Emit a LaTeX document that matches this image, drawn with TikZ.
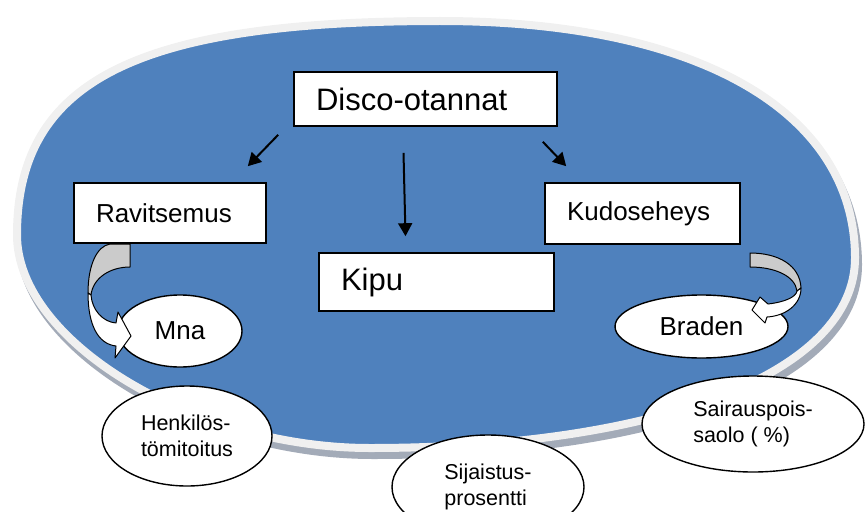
\documentclass[tikz,border=0pt]{standalone}
\usepackage{fontspec}
\setmainfont{Liberation Sans}
\definecolor{discoBlue}{HTML}{4F81BD}
\definecolor{discoRim}{HTML}{F0F0F0}
\definecolor{discoShade}{HTML}{A3ABB8}
\definecolor{discoFold}{HTML}{CBCBCB}
\usetikzlibrary{shapes.geometric, arrows.meta, positioning, calc}

\begin{document}
\begin{tikzpicture}[x=1pt, y=-1pt,
  box/.style={draw, fill=white, line width=1.6pt, inner xsep=22pt, align=left},
  bigtext/.style={font=\fontsize{31}{35}\selectfont},
  midtext/.style={font=\fontsize{26}{30}\selectfont},
  oval/.style={ellipse, draw, fill=white, line width=1.4pt, inner sep=0pt,
    align=left, font=\fontsize{21.5}{26.5}\selectfont},
  arr/.style={-{Triangle[length=13pt, width=14pt]}, line width=2pt},
  fold/.style={draw, line width=1pt, fill=discoFold, line join=round},
  flap/.style={draw, line width=1pt, fill=white, line join=round}]

  \useasboundingbox (0,0) rectangle (866,511);
  \clip (0,0) rectangle (866,511);

  % Background
  \path[fill=discoShade, draw=discoShade, line width=8pt, shift={(3,7)}]
    (440,21) .. controls (697,21) and (855,111) .. (855,258)
    .. controls (855,372) and (661,448) .. (370,448)
    .. controls (193.5,448) and (17,341.5) .. (17,235)
    .. controls (17,81) and (135.4,21) .. (440,21) -- cycle;
  \path[fill=discoBlue, draw=discoRim, line width=8pt]
    (440,21) .. controls (697,21) and (855,111) .. (855,258)
    .. controls (855,372) and (661,448) .. (370,448)
    .. controls (193.5,448) and (17,341.5) .. (17,235)
    .. controls (17,81) and (135.4,21) .. (440,21) -- cycle;

  \node[box, bigtext, text width=219pt, minimum height=54pt] (disco) at (425.5,99) {Disco-otannat};
  \node[box, midtext, text width=148pt, minimum height=60pt] (ravi) at (170,213) {Ravitsemus};
  \node[box, midtext, text width=151pt, minimum height=61pt] (kudo) at (642.5,213.5) {Kudoseheys};
  \node[box, bigtext, text width=191pt, minimum height=58pt] (kipu) at (436.5,282) {Kipu};

  \node[oval, midtext, align=center, minimum width=124pt, minimum height=72pt] (mna) at (180,331) {Mna};
  \node[oval, midtext, align=center, minimum width=173pt, minimum height=63pt] (braden) at (701.5,326.5) {Braden};
  \node[oval, minimum width=170pt, minimum height=100pt] (henk) at (187,436) {Henkilös-\\tömitoitus};
  \node[oval, minimum width=192pt, minimum height=104pt] (sijais) at (488,487) {Sijaistus-\\prosentti};
  \node[oval, minimum width=222pt, minimum height=96pt] (sairaus) at (753,424) {Sairauspois-\\saolo ( \%)};

  \draw[arr] ([xshift=-15pt, yshift=-8pt]disco.south west) -- ([xshift=-19pt, yshift=16pt]ravi.north east);
  \draw[arr] ([xshift=-22pt, yshift=-26pt]disco.south) -- ([xshift=-31pt, yshift=16pt]kipu.north);
  \draw[arr] ([xshift=-15pt, yshift=-15pt]disco.south east) -- ([xshift=22pt, yshift=16pt]kudo.north west);

  % Curved arrows
  \path[fold] (110,244) -- (130,244) -- (130,267) .. controls (110,267) and (93,278) .. (91,295)
    -- (88,293) .. controls (88,265) and (97,246) .. (110,244) -- cycle;
  \path[flap] (88,293) .. controls (88,325) and (98,344) .. (116,346) -- (115,358) -- (131,336)
    -- (118,312) -- (116,323) .. controls (103,322) and (92,310) .. (91,295) -- cycle;
  \path[fold] (750,253) .. controls (778,253) and (800,265) .. (801,288) -- (797,291)
    .. controls (795,276) and (775,267) .. (750,267) -- cycle;
  \path[flap] (801,288) .. controls (801,305) and (785,316) .. (767,317) -- (765,323) -- (752,310)
    -- (760,297) -- (768,304) .. controls (785,302) and (796,297) .. (797,291) -- cycle;
\end{tikzpicture}
\end{document}
